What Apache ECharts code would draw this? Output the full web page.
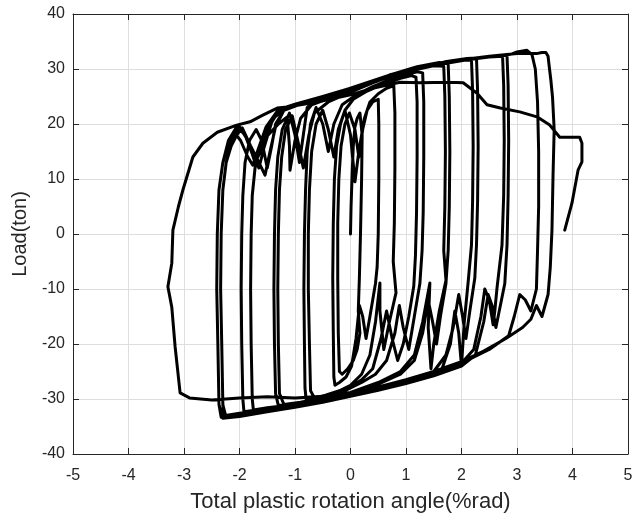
<!DOCTYPE html>
<html>
<head>
<meta charset="utf-8">
<script src="https://cdn.jsdelivr.net/npm/echarts@6/dist/echarts.min.js"></script>
<style>html,body{margin:0;padding:0;background:#fff}#c{width:644px;height:514px}</style>
</head>
<body>
<div id="c"></div>
<script>
const xTicks = [-5,-4,-3,-2,-1,0,1,2,3,4,5];
const yTicks = [-40,-30,-20,-10,0,10,20,30,40];

const startLoad = [[0,0],[0.01,5],[0.03,11],[0.05,16],[0.08,19.5],[0.12,21]];
const cycle0 = [[0.17,22],[0.2,22.3],[0.21,18],[0.2,10],[0.18,0],[0.16,-8],[0.14,-14],[0.17,-18],[0.12,-21],[0.05,-23],[-0.05,-24.5],[-0.15,-25.5],[-0.2,-25]];
const cycle1 = [[-0.22,-18],[-0.23,-8],[-0.23,2],[-0.21,10],[-0.17,16],[-0.1,20],[-0.02,22],[0.08,19],[0.15,14],[0.22,19],[0.3,22.5],[0.4,24],[0.5,24.5],
  [0.51,20],[0.51,10],[0.5,0],[0.48,-6],[0.45,-9],[0.35,-15],[0.28,-19],[0.22,-15],[0.16,-13],[0.1,-19],[0.02,-24],[-0.08,-26],[-0.2,-27],[-0.28,-27.5],[-0.3,-26]];
const cycle2 = [[-0.31,-18],[-0.32,-8],[-0.31,2],[-0.29,10],[-0.25,16],[-0.18,20],[-0.1,22.5],[0.0,18],[0.08,9.5],[0.15,15],[0.25,21],[0.35,24],[0.5,25.5],[0.65,26.5],[0.78,27],
  [0.8,22],[0.8,12],[0.79,2],[0.77,-5],[0.82,-10.7],[0.7,-16],[0.6,-21],[0.53,-14],[0.53,-8.9],[0.45,-16],[0.35,-22],[0.2,-25.5],[0,-27.5],[-0.2,-28.5],[-0.45,-29.3],[-0.65,-29.8],[-0.72,-28.5]];
const cycle3 = [[-0.74,-20],[-0.76,-10],[-0.76,0],[-0.74,8],[-0.7,15],[-0.62,20],[-0.5,22.5],[-0.4,19],[-0.3,14],[-0.22,19],[-0.1,22.5],[0.05,24.5],[0.3,26],[0.6,27.3],[0.9,28.3],[1.1,28.8],[1.18,28.5],
  [1.2,24],[1.2,14],[1.19,4],[1.17,-4],[1.14,-9.5],[1.05,-15],[0.95,-20],[0.85,-23],[0.75,-19],[0.65,-14],[0.55,-19],[0.4,-24.5],[0.2,-26.5],[0,-27.8],[-0.3,-29],[-0.6,-29.8],[-0.8,-30],[-0.82,-28]];
const cycle4 = [[-0.83,-20],[-0.84,-10],[-0.83,0],[-0.81,8],[-0.78,15],[-0.72,20],[-0.62,23],[-0.5,20],[-0.4,15],[-0.3,20],[-0.15,23.5],[0.1,25.3],[0.4,26.8],[0.7,28],[1.0,29],[1.2,29.5],[1.3,29.3],
  [1.32,24],[1.32,14],[1.31,4],[1.29,-3],[1.25,-9],[1.15,-15],[1.05,-21],[0.95,-17],[0.88,-13],[0.8,-18],[0.65,-23],[0.45,-25.5],[0.2,-27],[-0.1,-28.5],[-0.5,-29.8],[-0.9,-30.6],[-1.2,-31],[-1.28,-29]];
const cycle5 = [[-1.3,-20],[-1.31,-10],[-1.3,0],[-1.28,8],[-1.24,14],[-1.17,19],[-1.05,21.5],[-0.95,17],[-0.85,12],[-0.75,18],[-0.65,22],[-0.4,24],[0,25.8],[0.4,27.5],[0.8,29],[1.2,30],[1.5,30.6],[1.68,30.5],
  [1.7,25],[1.71,15],[1.7,5],[1.68,-3],[1.72,-8.4],[1.6,-14],[1.5,-20],[1.45,-24.5],[1.4,-17],[1.43,-8.9],[1.3,-16],[1.15,-22],[0.9,-25],[0.5,-27],[0,-28.8],[-0.5,-30],[-1.0,-30.8],[-1.3,-31.2],[-1.35,-29]];
const cycle6 = [[-1.37,-20],[-1.38,-10],[-1.37,0],[-1.35,8],[-1.31,14],[-1.23,19],[-1.1,22],[-1.0,18],[-0.92,13],[-0.85,18],[-0.78,23],[-0.6,24.3],[-0.2,25.6],[0.3,27.3],[0.8,29.2],[1.2,30.4],[1.6,31.2],[1.76,31],
  [1.78,25],[1.79,15],[1.78,5],[1.76,-3],[1.72,-9],[1.62,-15],[1.55,-20],[1.48,-16],[1.4,-12],[1.3,-18],[1.15,-23],[0.9,-25.5],[0.5,-27.3],[0,-29],[-0.5,-30.2],[-1.0,-31],[-1.5,-31.6],[-1.75,-32],[-1.77,-30]];
const cycle7 = [[-1.79,-20],[-1.8,-10],[-1.79,0],[-1.77,7],[-1.72,12],[-1.66,15],[-1.5,17.8],[-1.3,20],[-1.14,21.3],[-1.1,16],[-1.09,11.6],[-1.0,17],[-0.9,21],[-0.7,23.5],[-0.3,25],[0.2,26.8],[0.7,28.6],[1.2,30.1],[1.7,31.2],[2.0,31.6],[2.18,31.6],
  [2.2,26],[2.21,16],[2.2,6],[2.18,-2],[2.12,-8.7],[2.05,-16],[2.0,-24],[1.95,-18],[1.88,-14],[1.8,-20],[1.65,-24.5],[1.3,-26],[0.8,-27.5],[0.3,-28.8],[-0.2,-29.8],[-0.7,-30.6],[-1.2,-31.3],[-1.7,-32],[-1.92,-32.3],[-1.94,-30]];
const cycle8 = [[-1.96,-20],[-1.97,-10],[-1.96,0],[-1.94,7],[-1.9,13],[-1.82,17],[-1.7,19],[-1.6,17],[-1.5,12],[-1.42,16],[-1.35,20],[-1.2,22.5],[-0.8,24],[-0.3,25.5],[0.2,27.2],[0.7,28.9],[1.2,30.3],[1.7,31.3],[2.1,31.9],[2.27,32],
  [2.29,26],[2.3,16],[2.29,6],[2.27,-2],[2.24,-8],[2.15,-14],[2.08,-19],[2.02,-15],[1.95,-11],[1.85,-17],[1.72,-22],[1.5,-25],[1.0,-26.8],[0.5,-28.2],[0,-29.3],[-0.5,-30.3],[-1.0,-31.1],[-1.5,-31.8],[-2.0,-32.6],[-2.25,-33],[-2.3,-31]];
const cycle9 = [[-2.32,-20],[-2.34,-10],[-2.33,0],[-2.3,8],[-2.24,13],[-2.15,16],[-2.05,18],[-1.95,19.3],[-1.8,16],[-1.65,13],[-1.54,10.7],[-1.45,15],[-1.35,19.5],[-1.2,22.5],[-0.9,23.8],[-0.4,25],[0.1,26.5],[0.6,28.2],[1.1,29.7],[1.6,30.8],[2.1,31.7],[2.5,32.2],[2.74,32.3],
  [2.76,27],[2.77,17],[2.76,7],[2.73,-2],[2.64,-9.8],[2.6,-14],[2.57,-16.5],[2.5,-12],[2.42,-10],[2.35,-15],[2.22,-21],[2.0,-23.5],[1.5,-25.5],[1.0,-27],[0.5,-28.2],[0,-29.3],[-0.5,-30.3],[-1.0,-31.2],[-1.5,-32],[-2.0,-32.8],[-2.33,-33.3],[-2.37,-31]];
const cycle10 = [[-2.39,-20],[-2.41,-10],[-2.4,0],[-2.37,8],[-2.3,13],[-2.2,17],[-2.05,19.5],[-1.9,18],[-1.75,14],[-1.65,12],[-1.55,16],[-1.4,21],[-1.1,23.3],[-0.6,24.6],[-0.1,26.2],[0.4,27.8],[0.9,29.4],[1.4,30.6],[1.9,31.5],[2.4,32.1],[2.82,32.5],
  [2.84,27],[2.85,17],[2.84,7],[2.82,-2],[2.78,-9],[2.7,-13],[2.62,-17],[2.55,-13],[2.48,-11],[2.4,-16],[2.25,-22],[2.0,-24],[1.5,-25.8],[1.0,-27.2],[0.5,-28.4],[0,-29.5],[-0.5,-30.5],[-1.0,-31.4],[-1.5,-32.2],[-2.0,-33],[-2.28,-33.4],[-2.3,-31]];
const cycle11 = [[-2.32,-20],[-2.34,-10],[-2.33,0],[-2.3,8],[-2.24,13],[-2.15,16.5],[-2.0,19.5],[-1.85,17],[-1.72,13],[-1.62,15],[-1.5,19],[-1.3,22.3],[-0.9,23.8],[-0.4,25.2],[0.1,26.8],[0.6,28.4],[1.1,29.9],[1.6,31],[2.1,31.8],[2.6,32.4],[2.9,32.7],[3.0,33.1],[3.18,33.4],[3.27,32.6],
  [3.33,30],[3.37,24],[3.39,15],[3.39,5],[3.37,-3],[3.35,-10],[3.25,-14],[3.15,-12],[3.05,-11],[2.95,-15],[2.85,-18.5],[2.5,-21],[2.0,-23.5],[1.5,-25.5],[1.0,-27],[0.5,-28.3],[0,-29.5],[-0.5,-30.6],[-1.0,-31.5],[-1.5,-32.3],[-2.0,-33.2],[-2.3,-33.5],[-2.37,-31]];
const cycle12 = [[-2.39,-20],[-2.41,-10],[-2.4,0],[-2.37,8],[-2.3,13],[-2.2,16.5],[-2.1,18.5],[-1.98,17],[-1.85,14],[-1.76,12.5],[-1.66,15.5],[-1.52,19.5],[-1.3,22.6],[-1.0,23.6],[-0.5,25],[0,26.5],[0.5,28],[1.0,29.6],[1.5,30.8],[2.0,31.7],[2.5,32.3],[3.0,32.8],[3.35,32.8],[3.45,33],[3.52,33],[3.56,32.3],[3.58,30.5],
  [3.61,28],[3.64,24.9],[3.67,19],[3.65,11],[3.63,0.7],[3.6,-6],[3.56,-11],[3.45,-15],[3.35,-13],[3.25,-15.5],[3.1,-17],[2.8,-19],[2.4,-21.3],[2.0,-23.2],[1.5,-25],[1.0,-26.5],[0.5,-27.8],[0,-28.8],[-0.5,-29.5],[-1.0,-29.8],[-1.5,-29.6],[-2.0,-29.8],[-2.5,-30.2],[-2.9,-29.8],[-3.07,-28.9]];
const finalBranch = [[-3.16,-20.5],[-3.22,-13.3],[-3.29,-9.6],[-3.22,-5.3],[-3.2,0.7],[-3.1,5],[-3.02,8],[-2.84,14],[-2.66,16.5],[-2.4,18.5],[-2.05,19.8],[-1.81,20.4],[-1.58,21.6],[-1.32,22.9],[-1.14,23.1],[-0.9,23.5],[-0.5,24.2],[0,25.3],[0.4,26.5],[0.89,27.6],[1.25,27.5],[1.79,27.6],[2.03,27.5],[2.28,25.6],[2.46,23.5],[2.7,22.9],[3.05,22.2],[3.36,21.3],[3.59,19.8],[3.77,17.6],[4.13,17.6],[4.17,16.5],[4.17,13.1],[4.1,11.6],[3.99,5.6],[3.86,0.7]];

const path = [].concat(startLoad, cycle0, cycle1, cycle2, cycle3, cycle4, cycle5, cycle6, cycle7, cycle8, cycle9, cycle10, cycle11, cycle12, finalBranch);

const FONT = 'Liberation Sans, Arial, sans-serif';
const AX = '#262626';
const GRIDC = '#dedede';

function xAx(pos, main) {
  return {
    type: 'value', position: pos, min: xTicks[0], max: xTicks[xTicks.length-1], interval: 1,
    axisLine: {show: true, onZero: false, lineStyle: {color: AX, width: 1}},
    axisTick: {show: true, inside: true, length: 6, lineStyle: {color: AX}},
    axisLabel: {show: main, color: AX, fontSize: 16, fontFamily: FONT, margin: 14},
    splitLine: {show: main, lineStyle: {color: GRIDC, width: 1}},
    name: main ? 'Total plastic rotation angle(%rad)' : '',
    nameLocation: 'middle', nameGap: 37,
    nameTextStyle: {color: AX, fontSize: 22, fontFamily: FONT}
  };
}
function yAx(pos, main) {
  return {
    type: 'value', position: pos, min: yTicks[0], max: yTicks[yTicks.length-1], interval: 10,
    axisLine: {show: true, onZero: false, lineStyle: {color: AX, width: 1}},
    axisTick: {show: true, inside: true, length: 6, lineStyle: {color: AX}},
    axisLabel: {show: main, color: AX, fontSize: 16, fontFamily: FONT, margin: 8},
    splitLine: {show: main, lineStyle: {color: GRIDC, width: 1}},
    name: main ? 'Load(ton)' : '',
    nameLocation: 'middle', nameGap: 27, nameRotate: 90,
    nameTextStyle: {color: AX, fontSize: 20, fontFamily: FONT}
  };
}

const chart = echarts.init(document.getElementById('c'), null, {renderer: 'canvas'});
chart.setOption({
  animation: false,
  backgroundColor: '#ffffff',
  grid: {left: 73, right: 16, top: 14, bottom: 60, containLabel: false, outerBoundsMode: 'none'},
  xAxis: [xAx('bottom', true), xAx('top', false)],
  yAxis: [yAx('left', true), yAx('right', false)],
  series: [{
    type: 'line', xAxisIndex: 0, yAxisIndex: 0,
    data: path, showSymbol: false, smooth: false,
    lineStyle: {color: '#000000', width: 3, join: 'round', cap: 'round'},
    z: 5
  }]
});
</script>
</body>
</html>
